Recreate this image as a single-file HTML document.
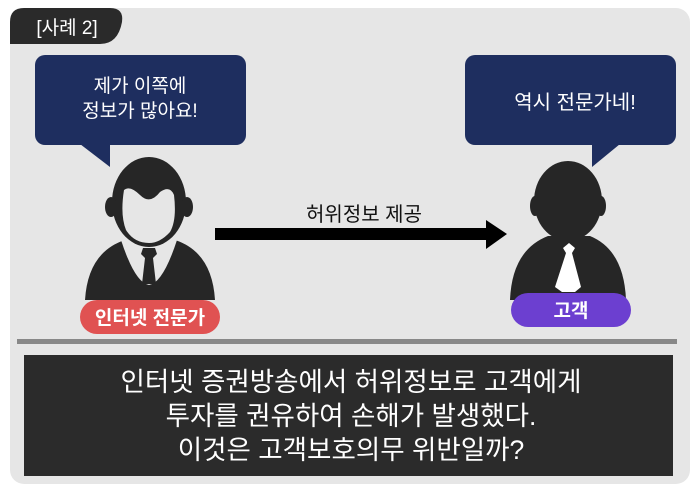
<!DOCTYPE html>
<html><head><meta charset="utf-8"><style>
html,body{margin:0;padding:0;background:#fff;}
svg{display:block;}
text{font-family:"Liberation Sans","Noto Sans CJK KR",sans-serif;}
</style></head><body>
<svg width="700" height="493" viewBox="0 0 700 493" xmlns="http://www.w3.org/2000/svg">
<rect x="10" y="8" width="680" height="476" rx="14" fill="#e6e6e6"/>
<path d="M10 44 V22 Q10 8 24 8 H110 Q124 8 122 22 Q118 44 100 44 Z" fill="#2a2a2a"/>
<text x="67" y="34" font-size="19" fill="#fff" text-anchor="middle">[사례 2]</text>

<rect x="35" y="55" width="211" height="90" rx="10" fill="#1e2e5f"/>
<path d="M80 144 L110 144 L110 167 Z" fill="#1e2e5f"/>
<text x="140" y="92" font-size="19" fill="#fff" text-anchor="middle">제가 이쪽에</text>
<text x="140" y="117" font-size="19" fill="#fff" text-anchor="middle">정보가 많아요!</text>

<rect x="465" y="55" width="211" height="90" rx="10" fill="#1e2e5f"/>
<path d="M592 144 L620 144 L592 167 Z" fill="#1e2e5f"/>
<text x="575" y="109" font-size="20" fill="#fff" text-anchor="middle">역시 전문가네!</text>

<!-- left person -->
<path d="M85 300 Q88 252 125 240 L175 240 Q212 252 215 300 Z" fill="#262626"/>
<path d="M121 240 Q135 283 149 285 Q163 283 177 240 Z" fill="#e6e6e6"/>
<path d="M143 248 L155 248 L157 254 L153 258 L156 284 L142 284 L145 258 L141 254 Z" fill="#262626"/>
<ellipse cx="149" cy="202" rx="37" ry="45" fill="#262626"/>
<ellipse cx="111" cy="207" rx="6" ry="10" fill="#262626"/>
<ellipse cx="187" cy="207" rx="6" ry="10" fill="#262626"/>
<path d="M124 190 Q130 185 140 195 Q150 205 160 192 Q170 185 174 195 Q177 220 170 232 Q160 243 149 243 Q134 243 126 230 Q120 215 124 190 Z" fill="#e6e6e6"/>
<rect x="80" y="300" width="140" height="34" rx="17" fill="#e05252"/>
<text x="150" y="324" font-size="19" font-weight="bold" fill="#fff" text-anchor="middle">인터넷 전문가</text>

<!-- arrow -->
<rect x="215" y="228" width="273" height="12" fill="#000"/>
<path d="M486 220 L507 234 L486 249 Z" fill="#000"/>
<text x="364" y="221" font-size="20" fill="#111" text-anchor="middle">허위정보 제공</text>

<!-- right person -->
<path d="M510 300 Q512 250 548 236 L590 236 Q624 250 626 300 Z" fill="#262626"/>
<path d="M563 248 L569 243 L575 248 L572 253 L581 287 L575 292 L562 292 L555 287 L566 253 Z" fill="#fff"/>
<ellipse cx="568" cy="201" rx="34" ry="40" fill="#262626"/>
<ellipse cx="535" cy="206" rx="5" ry="10" fill="#262626"/>
<ellipse cx="601" cy="206" rx="5" ry="10" fill="#262626"/>
<rect x="511" y="293" width="120" height="34" rx="17" fill="#6c3fd0"/>
<text x="571" y="317" font-size="19" font-weight="bold" fill="#fff" text-anchor="middle">고객</text>

<rect x="17" y="339" width="660" height="5" fill="#888"/>
<rect x="24" y="355" width="649" height="121" fill="#2b2b2b"/>
<text x="351" y="391" font-size="26.5" fill="#fff" text-anchor="middle">인터넷 증권방송에서 허위정보로 고객에게</text>
<text x="351" y="425" font-size="26.5" fill="#fff" text-anchor="middle">투자를 권유하여 손해가 발생했다.</text>
<text x="351" y="459" font-size="26.5" fill="#fff" text-anchor="middle">이것은 고객보호의무 위반일까?</text>
</svg>
</body></html>
